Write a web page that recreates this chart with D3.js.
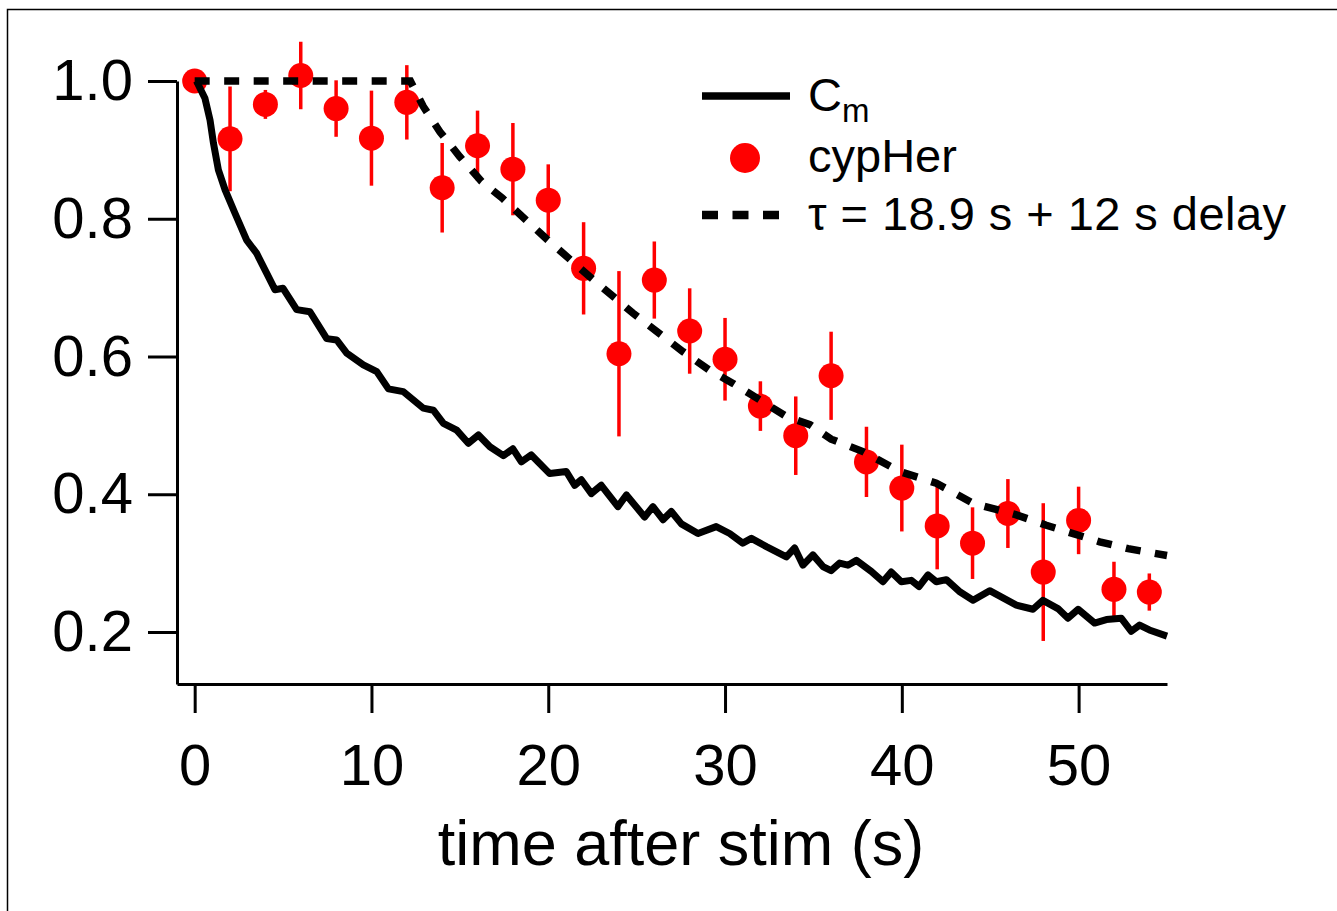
<!DOCTYPE html>
<html>
<head>
<meta charset="utf-8">
<script src="https://cdn.jsdelivr.net/npm/d3@7"></script>
<style>
  body { margin: 0; background: #fff; }
  text { font-family: Arial, "Liberation Sans", sans-serif; fill: #000; }
</style>
</head>
<body>
<div id="chart"></div>
<script>
/* normalised Cm trace vs cypHer spots after stimulation */

// Cm trace (black solid line)
const cmTime = [0.1, 0.58, 0.87, 1.06, 1.34, 1.72, 2.28, 2.94, 3.5, 4.07, 4.54, 5.0, 5.77, 6.52, 7.47,
  8.03, 8.6, 9.54, 10.3, 10.96, 11.8, 12.93, 13.5, 14.07, 14.82, 15.48, 16.05, 16.7, 17.46, 18.0,
  18.48, 19.04, 20.08, 21.02, 21.5, 21.87, 22.44, 23.0, 23.94, 24.42, 25.45, 25.92, 26.49, 26.96,
  27.53, 28.47, 29.5, 30.26, 31.0, 31.49, 32.34, 33.47, 33.94, 34.41, 34.97, 35.54, 36.0, 36.48,
  36.95, 37.43, 38.27, 38.93, 39.4, 39.97, 40.53, 40.97, 41.48, 41.95, 42.52, 43.3, 44.03, 44.97,
  46.48, 47.42, 47.98, 48.83, 49.4, 49.97, 50.9, 51.57, 52.41, 52.98, 53.45, 54.0, 55.0];
const cmValue = [1.0, 0.975, 0.943, 0.910, 0.871, 0.842, 0.808, 0.769, 0.750, 0.721, 0.697, 0.699, 0.668, 0.665, 0.626,
  0.624, 0.605, 0.588, 0.578, 0.553, 0.549, 0.525, 0.522, 0.503, 0.493, 0.474, 0.486, 0.469, 0.456, 0.466,
  0.447, 0.457, 0.430, 0.433, 0.413, 0.421, 0.401, 0.413, 0.382, 0.399, 0.367, 0.382, 0.363, 0.375,
  0.357, 0.343, 0.353, 0.343, 0.329, 0.336, 0.324, 0.309, 0.322, 0.297, 0.312, 0.295, 0.289, 0.300,
  0.297, 0.304, 0.288, 0.273, 0.287, 0.273, 0.275, 0.266, 0.283, 0.273, 0.276, 0.258, 0.246, 0.260,
  0.239, 0.233, 0.246, 0.234, 0.220, 0.233, 0.213, 0.218, 0.220, 0.201, 0.210, 0.203, 0.194];

// cypHer (red points with error bars)
const cypTime = [0, 2, 4, 6, 8, 10, 12, 14, 16, 18, 20, 22, 24, 26, 28, 30, 32, 34, 36, 38, 40, 42, 44, 46, 48, 50, 52, 54];
const cypValue = [1.000, 0.916, 0.966, 1.008, 0.960, 0.917, 0.969, 0.845, 0.906, 0.872, 0.827, 0.728, 0.604, 0.711,
  0.637, 0.596, 0.528, 0.485, 0.572, 0.447, 0.409, 0.354, 0.329, 0.372, 0.287, 0.362, 0.262, 0.258];
const cypErr = [0, 0.076, 0.021, 0.049, 0.041, 0.069, 0.054, 0.065, 0.051, 0.067, 0.052, 0.067, 0.12, 0.056,
  0.062, 0.060, 0.036, 0.057, 0.064, 0.051, 0.063, 0.063, 0.052, 0.050, 0.100, 0.049, 0.040, 0.027];

// fit (black dashed line)
const fitTime = [0, 12.2, 12.93, 13.88, 15.0, 16.23, 17.4, 19.98, 22.34, 24.79, 27.62, 29.13, 30.45, 33.47,
  34.8, 36.0, 37.8, 39.88, 41.95, 44.02, 46.48, 48.17, 51.19, 52.8, 55.0];
const fitValue = [1.0, 1.0, 0.963, 0.926, 0.890, 0.854, 0.830, 0.769, 0.716, 0.663, 0.607, 0.580, 0.561, 0.513,
  0.501, 0.480, 0.462, 0.433, 0.416, 0.387, 0.370, 0.355, 0.331, 0.321, 0.311];

const xTicks = [0, 10, 20, 30, 40, 50];
const yTicks = [0.2, 0.4, 0.6, 0.8, 1.0];
const legendLabels = ["C", "cypHer", "\u03c4 = 18.9 s + 12 s delay"];

const width = 1337, height = 911;

const svg = d3.select("#chart").append("svg")
    .attr("width", width)
    .attr("height", height);

// page frame (top and left edge only)
svg.append("path")
    .attr("d", "M7.5,911 L7.5,9.5 L1337,9.5")
    .attr("fill", "none")
    .attr("stroke", "#000")
    .attr("stroke-width", 1.5);

const x = d3.scaleLinear().domain([-1, 55]).range([177, 1167]);
const y = d3.scaleLinear().domain([0.1245, 1.0]).range([684, 81]);

// axes
const xAxis = g => g
    .attr("transform", "translate(0,684)")
    .call(d3.axisBottom(x).tickValues(xTicks).tickFormat(d3.format("d"))
        .tickSize(29).tickSizeOuter(0).tickPadding(31));
const yAxis = g => g
    .attr("transform", "translate(177,0)")
    .call(d3.axisLeft(y).tickValues(yTicks).tickFormat(d3.format(".1f"))
        .tickSize(29).tickSizeOuter(0).tickPadding(15));

const gx = svg.append("g").call(xAxis);
const gy = svg.append("g").call(yAxis);
for (const g of [gx, gy]) {
    g.select(".domain").attr("stroke", "#000").attr("stroke-width", 3);
    g.selectAll(".tick line").attr("stroke", "#000").attr("stroke-width", 3);
    g.selectAll(".tick text").attr("font-size", 58).attr("fill", "#000")
        .attr("font-family", "Arial, 'Liberation Sans', sans-serif");
}

svg.append("text")
    .attr("x", 681)
    .attr("y", 865)
    .attr("text-anchor", "middle")
    .attr("font-size", 63)
    .text("time after stim (s)");

// cypHer error bars and points
const cyp = cypTime.map((t, i) => ({t: t, v: cypValue[i], e: cypErr[i]}));

svg.append("g").selectAll("line")
    .data(cyp.filter(d => d.e > 0))
    .join("line")
    .attr("x1", d => x(d.t))
    .attr("x2", d => x(d.t))
    .attr("y1", d => y(d.v + d.e))
    .attr("y2", d => y(d.v - d.e))
    .attr("stroke", "#ff0000")
    .attr("stroke-width", 3.5);

svg.append("g").selectAll("circle")
    .data(cyp)
    .join("circle")
    .attr("cx", d => x(d.t))
    .attr("cy", d => y(d.v))
    .attr("r", 12.5)
    .attr("fill", "#ff0000");

// Cm trace
const line = d3.line().x(d => x(d[0])).y(d => y(d[1]));

svg.append("path")
    .datum(cmTime.map((t, i) => [t, cmValue[i]]))
    .attr("d", line)
    .attr("fill", "none")
    .attr("stroke", "#000")
    .attr("stroke-width", 7)
    .attr("stroke-linejoin", "round");

// fit
svg.append("path")
    .datum(fitTime.map((t, i) => [t, fitValue[i]]))
    .attr("d", line)
    .attr("fill", "none")
    .attr("stroke", "#000")
    .attr("stroke-width", 7.5)
    .attr("stroke-dasharray", "15,14.5");

// legend
const lg = svg.append("g").attr("class", "legend");
lg.append("line")
    .attr("x1", 702).attr("x2", 790)
    .attr("y1", 96).attr("y2", 96)
    .attr("stroke", "#000").attr("stroke-width", 7.5);
lg.append("circle")
    .attr("cx", 745).attr("cy", 158).attr("r", 15)
    .attr("fill", "#ff0000");
lg.append("line")
    .attr("x1", 702).attr("x2", 779)
    .attr("y1", 215).attr("y2", 215)
    .attr("stroke", "#000").attr("stroke-width", 8.5)
    .attr("stroke-dasharray", "16,14.5");

const cm = lg.append("text")
    .attr("x", 808).attr("y", 111)
    .attr("font-size", 47);
cm.append("tspan").text(legendLabels[0]);
cm.append("tspan").attr("font-size", 33).attr("dy", 11).text("m");

lg.append("text")
    .attr("x", 808).attr("y", 172)
    .attr("font-size", 47)
    .text(legendLabels[1]);
lg.append("text")
    .attr("x", 808).attr("y", 230)
    .attr("font-size", 47)
    .attr("textLength", 478)
    .text(legendLabels[2]);
</script>
</body>
</html>
